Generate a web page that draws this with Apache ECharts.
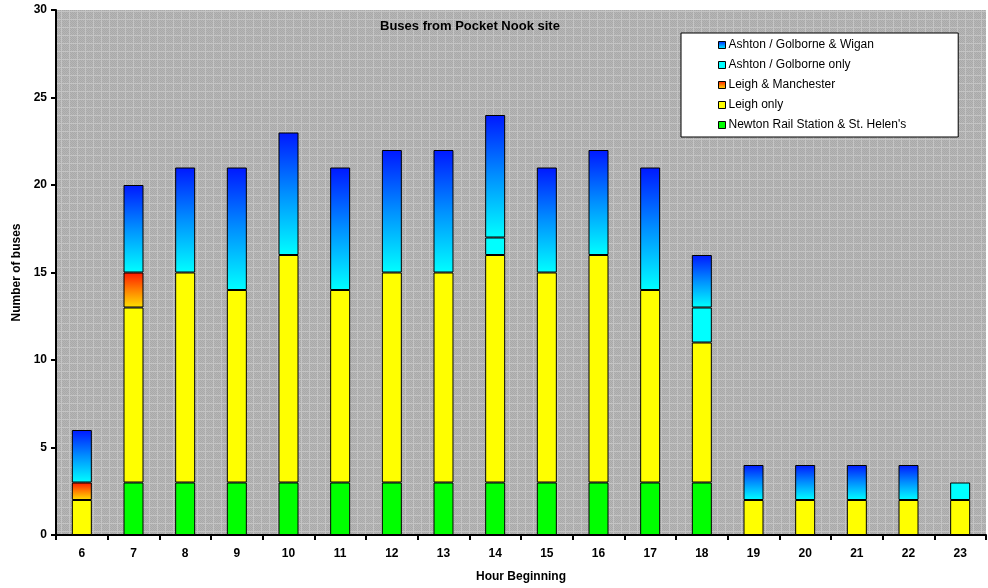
<!DOCTYPE html>
<html>
<head>
<meta charset="utf-8">
<script src="https://cdn.jsdelivr.net/npm/echarts@6/dist/echarts.min.js"></script>
<style>
  html, body { margin: 0; padding: 0; background: #ffffff; }
  #chart { width: 988px; height: 588px; }
</style>
</head>
<body>
<div id="chart"></div>
<script>
// Hour of departure (hour beginning)
const hours = ['6','7','8','9','10','11','12','13','14','15','16','17','18','19','20','21','22','23'];

// Number of buses per route group, per hour
const newtonStHelens = [0, 3, 3, 3, 3, 3, 3, 3, 3, 3, 3, 3, 3, 0, 0, 0, 0, 0];
const leighOnly      = [2, 10, 12, 11, 13, 11, 12, 12, 13, 12, 13, 11, 8, 2, 2, 2, 2, 2];
const leighManchester= [1, 2, 0, 0, 0, 0, 0, 0, 0, 0, 0, 0, 0, 0, 0, 0, 0, 0];
const ashtonOnly     = [0, 0, 0, 0, 0, 0, 0, 0, 1, 0, 0, 0, 2, 0, 0, 0, 0, 1];
const ashtonWigan    = [3, 5, 6, 7, 7, 7, 7, 7, 7, 6, 6, 7, 3, 2, 2, 2, 2, 0];

const yTicks = [0, 5, 10, 15, 20, 25, 30];

const legendOrder = [
  'Ashton / Golborne & Wigan',
  'Ashton / Golborne only',
  'Leigh & Manchester',
  'Leigh only',
  "Newton Rail Station & St. Helen's"
];

// dithered grey plot background
function makePattern() {
  const c = document.createElement('canvas');
  c.width = 8; c.height = 8;
  const ctx = c.getContext('2d');
  ctx.fillStyle = '#b6b6b6';
  ctx.fillRect(0, 0, 8, 8);
  for (let y = 0; y < 8; y++) {
    for (let x = 0; x < 8; x++) {
      if ((x + y) % 2 === 0) {
        ctx.fillStyle = '#a9a9a9';
        ctx.fillRect(x, y, 1, 1);
      }
    }
  }
  ctx.fillStyle = '#c4c4c4';
  ctx.fillRect(0, 3, 8, 1);
  ctx.fillRect(5, 0, 1, 8);
  return c;
}

const blank = v => (v === 0 ? '-' : v);

function grad(stops) {
  return new echarts.graphic.LinearGradient(0, 0, 0, 1,
    stops.map((c, i) => ({ offset: i / (stops.length - 1), color: c })));
}

const border = { borderColor: '#000000', borderWidth: 1 };

function barSeries(name, data, color) {
  return {
    name: name,
    type: 'bar',
    stack: 'buses',
    barWidth: 20,
    data: data.map(blank),
    itemStyle: Object.assign({ color: color }, border),
    emphasis: { disabled: true }
  };
}

const chart = echarts.init(document.getElementById('chart'), null, { renderer: 'canvas' });

chart.setOption({
  animation: false,
  backgroundColor: '#ffffff',
  textStyle: { fontFamily: 'Liberation Sans, Arial, sans-serif' },
  title: {
    text: 'Buses from Pocket Nook site',
    left: 375,
    top: 15,
    textStyle: { fontSize: 13, fontWeight: 'bold', color: '#000000' }
  },
  legend: {
    data: legendOrder,
    orient: 'vertical',
    left: 681,
    top: 33,
    padding: [6, 52, 6, 37],
    itemGap: 8,
    itemWidth: 7,
    itemHeight: 7,
    icon: 'rect',
    backgroundColor: '#ffffff',
    borderColor: '#000000',
    borderWidth: 1,
    borderRadius: 0,
    itemStyle: { borderColor: '#000000', borderWidth: 1 },
    textStyle: { fontSize: 12, color: '#000000', padding: [0, 0, 0, -2] }
  },
  grid: {
    left: 56,
    right: 2,
    top: 10,
    bottom: 51,
    show: true,
    borderWidth: 0,
    backgroundColor: { image: makePattern(), repeat: 'repeat' }
  },
  xAxis: {
    type: 'category',
    data: hours,
    name: 'Hour Beginning',
    nameLocation: 'middle',
    nameGap: 36,
    nameTextStyle: { fontSize: 12, fontWeight: 'bold', color: '#000000' },
    axisLine: { lineStyle: { color: '#000000', width: 2 } },
    axisTick: { show: true, length: 5, alignWithLabel: false, lineStyle: { color: '#000000', width: 2 } },
    axisLabel: { fontSize: 12, fontWeight: 'bold', color: '#000000', margin: 13 },
    splitLine: { show: false }
  },
  yAxis: {
    type: 'value',
    min: 0,
    max: 30,
    interval: 5,
    name: 'Number of buses',
    nameLocation: 'middle',
    nameGap: 31,
    nameTextStyle: { fontSize: 12, fontWeight: 'bold', color: '#000000' },
    axisLine: { show: true, lineStyle: { color: '#000000', width: 2 } },
    axisTick: { show: true, length: 5, lineStyle: { color: '#000000', width: 2 } },
    axisLabel: {
      fontSize: 12, fontWeight: 'bold', color: '#000000', margin: 9,
      formatter: v => (yTicks.includes(v) ? String(v) : '')
    },
    splitLine: { show: false }
  },
  series: [
    barSeries("Newton Rail Station & St. Helen's", newtonStHelens, '#00ff00'),
    barSeries('Leigh only', leighOnly, '#ffff00'),
    barSeries('Leigh & Manchester', leighManchester, grad(['#ff1a00', '#ff8000', '#ffe000'])),
    barSeries('Ashton / Golborne only', ashtonOnly, '#00ffff'),
    barSeries('Ashton / Golborne & Wigan', ashtonWigan, grad(['#0018ff', '#0090ff', '#00ffff']))
  ]
});
</script>
</body>
</html>
